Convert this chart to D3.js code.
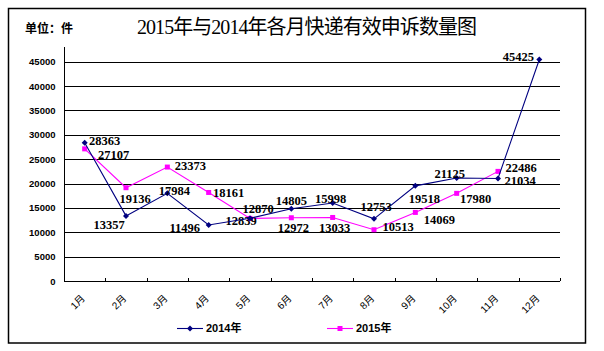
<!DOCTYPE html>
<html>
<head>
<meta charset="utf-8">
<script src="https://cdn.jsdelivr.net/npm/d3@7"></script>
<style>
  body { margin: 0; background: #fff; }
  svg { display: block; }
</style>
</head>
<body>
<div id="chart"></div>
<script>
// Data
const months = ["1月", "2月", "3月", "4月", "5月", "6月", "7月", "8月", "9月", "10月", "11月", "12月"];
const values2014 = [28363, 13357, 17984, 11496, 12870, 14805, 15998, 12753, 19518, 21125, 21034, 45425];
const values2015 = [27107, 19136, 23373, 18161, 12839, 12972, 13033, 10513, 14069, 17980, 22486];
const yTicks = [0, 5000, 10000, 15000, 20000, 25000, 30000, 35000, 40000, 45000];

// where each value label sits relative to its point (dx, dy of the label centre)
const labelPos2014 = [[20, -2], [-17, 9], [7, -3], [-24, 3], [8, -10], [0, -8], [-2, -4], [2, -12], [9, 13], [-7, -4], [22, 2], [-21, -3]];
const labelPos2015 = [[29, 6], [9, 11], [23, -1], [20, 0], [-9, 2], [2, 10], [2, 10], [24, -3], [24, 7], [19, 5], [23, -4]];

const W = 604, H = 351;
const plot = { left: 64, right: 560, top: 47, bottom: 281 };
const c2014 = "#000080", c2015 = "#ff00ff";

const svg = d3.select("#chart")
    .append("svg")
    .attr("width", W)
    .attr("height", H);

// outer frame
svg.append("rect")
    .attr("x", 8.5).attr("y", 8.5)
    .attr("width", 577).attr("height", 334.5)
    .attr("fill", "none")
    .attr("stroke", "#000")
    .attr("stroke-width", 1.5);

// title + unit
svg.append("text")
    .attr("x", 137).attr("y", 34)
    .attr("textLength", 340)
    .attr("lengthAdjust", "spacing")
    .style("font-family", "'Liberation Serif', 'Noto Sans CJK SC', serif")
    .style("font-size", "20px")
    .text("2015年与2014年各月快递有效申诉数量图");

svg.append("text")
    .attr("x", 25).attr("y", 33)
    .style("font-family", "'Liberation Sans', 'Noto Sans CJK SC', sans-serif")
    .style("font-size", "12px")
    .style("font-weight", "bold")
    .text("单位：件");

// scales
const x = d3.scaleBand()
    .domain(months)
    .range([plot.left, plot.right]);

const y = d3.scaleLinear()
    .domain([0, 48000])
    .range([plot.bottom, plot.top]);

// horizontal grid lines
svg.append("g")
    .selectAll("line")
    .data(yTicks.filter(d => d > 0))
    .join("line")
    .attr("x1", plot.left).attr("x2", plot.right)
    .attr("y1", d => Math.round(y(d)) + 0.5)
    .attr("y2", d => Math.round(y(d)) + 0.5)
    .attr("stroke", "#000")
    .attr("stroke-width", 1);

// y axis
const yAxis = svg.append("g")
    .attr("transform", `translate(${plot.left + 0.5},0)`)
    .call(d3.axisLeft(y).tickValues(yTicks).tickSize(0).tickPadding(9).tickFormat(d3.format("d")));
yAxis.select(".domain").attr("stroke", "#000").attr("d", `M0,${plot.top}V${plot.bottom}`);
yAxis.selectAll(".tick text")
    .style("font-family", "'Liberation Sans', Arial, sans-serif")
    .style("font-size", "9.5px")
    .style("font-weight", "bold")
    .attr("fill", "#000");

// x axis: ticks between the categories, pointing up
const xAxisG = svg.append("g");
xAxisG.append("line")
    .attr("x1", plot.left).attr("x2", plot.right)
    .attr("y1", plot.bottom + 0.5).attr("y2", plot.bottom + 0.5)
    .attr("stroke", "#000");
xAxisG.selectAll(".xtick")
    .data(months)
    .join("line")
    .attr("class", "xtick")
    .attr("x1", d => Math.round(x(d) + x.bandwidth()) + 0.5)
    .attr("x2", d => Math.round(x(d) + x.bandwidth()) + 0.5)
    .attr("y1", plot.bottom)
    .attr("y2", plot.bottom - 3)
    .attr("stroke", "#000");

xAxisG.selectAll(".xlabel")
    .data(months)
    .join("text")
    .attr("class", "xlabel")
    .attr("text-anchor", "end")
    .attr("transform", d => `translate(${x(d) + x.bandwidth() / 2 + 1},${plot.bottom + 18}) rotate(-45)`)
    .style("font-family", "'Liberation Sans', 'Noto Sans CJK SC', sans-serif")
    .style("font-size", "10px")
    .text(d => d);

// series
const cx = i => x(months[i]) + x.bandwidth() / 2;
const line = d3.line()
    .x((d, i) => cx(i))
    .y(d => y(d));

function drawSeries(values, color, marker, labelPos) {
    const g = svg.append("g");
    g.append("path")
        .datum(values)
        .attr("d", line)
        .attr("fill", "none")
        .attr("stroke", color)
        .attr("stroke-width", 1.1);

    g.selectAll(".mk")
        .data(values)
        .join("path")
        .attr("class", "mk")
        .attr("transform", (d, i) => `translate(${cx(i)},${y(d)})`)
        .attr("d", marker)
        .attr("fill", color);

    g.selectAll(".lbl")
        .data(values)
        .join("text")
        .attr("class", "lbl")
        .attr("x", (d, i) => cx(i) + labelPos[i][0])
        .attr("y", (d, i) => y(d) + labelPos[i][1])
        .attr("dy", "0.35em")
        .attr("text-anchor", "middle")
        .style("font-family", "'Liberation Serif', 'Times New Roman', serif")
        .style("font-size", "12.5px")
        .style("font-weight", "bold")
        .text(d => d);
}

const diamond = "M0,-3L3,0L0,3L-3,0Z";
const square = "M-2.5,-2.5H2.5V2.5H-2.5Z";

drawSeries(values2015, c2015, square, labelPos2015);
drawSeries(values2014, c2014, diamond, labelPos2014);

// legend
const legendItems = [
    { name: "2014年", color: c2014, marker: diamond, x: 177 },
    { name: "2015年", color: c2015, marker: square, x: 327 }
];
const lg = svg.append("g").selectAll("g")
    .data(legendItems)
    .join("g")
    .attr("transform", d => `translate(${d.x},328.5)`);
lg.append("line")
    .attr("x1", 0).attr("x2", 26)
    .attr("stroke", d => d.color)
    .attr("stroke-width", 1.1);
lg.append("path")
    .attr("transform", "translate(13,0)")
    .attr("d", d => d.marker)
    .attr("fill", d => d.color);
lg.append("text")
    .attr("x", 29)
    .attr("dy", "0.35em")
    .style("font-family", "'Liberation Sans', 'Noto Sans CJK SC', sans-serif")
    .style("font-size", "11px")
    .style("font-weight", "bold")
    .text(d => d.name);
</script>
</body>
</html>
